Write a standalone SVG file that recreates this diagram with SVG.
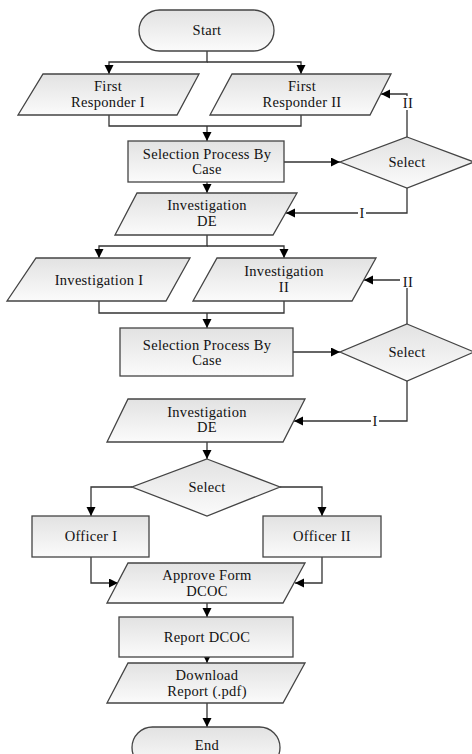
<svg xmlns="http://www.w3.org/2000/svg" width="472" height="754" viewBox="0 0 472 754" font-family="'Liberation Serif', 'DejaVu Serif', serif">
  <defs>
    <linearGradient id="fillGrad" x1="0" y1="0" x2="0" y2="1">
      <stop offset="0" stop-color="#e2e2e2"/>
      <stop offset="1" stop-color="#fbfbfb"/>
    </linearGradient>
    <marker id="arrow" markerUnits="userSpaceOnUse" markerWidth="10" markerHeight="10" refX="9" refY="4.5" orient="auto">
      <path d="M0,0 L9,4.5 L0,9 Z" fill="#000"/>
    </marker>
  </defs>
  <style>
    .shape { fill: url(#fillGrad); stroke: #444; stroke-width: 1.3; }
    .conn { fill: none; stroke: #333; stroke-width: 1.3; }
    .arr { marker-end: url(#arrow); }
    text { font-family: 'Liberation Serif', 'DejaVu Serif', serif; font-size: 14.5px; fill: #111; text-anchor: middle; letter-spacing: 0.3px; }
    .lblbg { fill: #fff; }
  </style>
  <rect width="472" height="754" fill="#fff"/>

  <!-- connectors -->
  <g id="connectors">
    <path class="conn arr" d="M207,51 V62 H109 V74"/>
    <path class="conn arr" d="M207,62 H301 V74"/>
    <path class="conn" d="M109,115 V126 H301 V115"/>
    <path class="conn arr" d="M207,126 V141"/>
    <path class="conn arr" d="M284,162 H340"/>
    <path class="conn arr" d="M407,137 V94 H381"/>
    <path class="conn arr" d="M407,188 V213 H286"/>
    <path class="conn arr" d="M207,182 V193"/>
    <path class="conn arr" d="M207,235 V246 H99 V258"/>
    <path class="conn arr" d="M207,246 H284 V258"/>
    <path class="conn" d="M99,301 V313 H284 V301"/>
    <path class="conn arr" d="M207,313 V328"/>
    <path class="conn arr" d="M293,352 H340"/>
    <path class="conn arr" d="M407,324 V280 H364"/>
    <path class="conn arr" d="M407,381 V421 H294"/>
    <path class="conn arr" d="M207,442 V459"/>
    <path class="conn arr" d="M132,487 H91 V516"/>
    <path class="conn arr" d="M280,487 H322 V516"/>
    <path class="conn arr" d="M91,557 V583 H118"/>
    <path class="conn arr" d="M322,557 V583 H295"/>
    <path class="conn arr" d="M207,603 V617"/>
    <path class="conn arr" d="M207,657 V663"/>
    <path class="conn arr" d="M207,703 V727"/>
    <!-- branch labels -->
    <rect class="lblbg" x="400" y="96" width="16" height="14"/>
    <text x="408" y="108">II</text>
    <rect class="lblbg" x="358" y="206" width="8" height="14"/>
    <text x="362" y="218">I</text>
    <rect class="lblbg" x="400" y="276" width="16" height="12"/>
    <text x="408" y="287">II</text>
    <rect class="lblbg" x="371" y="414" width="8" height="14"/>
    <text x="375" y="426">I</text>
  </g>

  <g id="start">
    <rect class="shape" x="139" y="10" width="135" height="41" rx="20.5" ry="20.5"/>
    <text x="207" y="35">Start</text>
  </g>

  <g id="first-responder-1">
    <polygon class="shape" points="43,74 199,74 177,115 18,115"/>
    <text x="108" y="91">First</text>
    <text x="108" y="107">Responder I</text>
  </g>

  <g id="first-responder-2">
    <polygon class="shape" points="232,74 391,74 370,115 210,115"/>
    <text x="302" y="91">First</text>
    <text x="302" y="107">Responder II</text>
  </g>

  <g id="selection-1">
    <rect class="shape" x="128" y="141" width="156" height="41"/>
    <text x="207" y="159">Selection Process By</text>
    <text x="207" y="174">Case</text>
  </g>

  <g id="select-1">
    <polygon class="shape" points="407,137 474,162 407,188 340,162"/>
    <text x="407" y="167">Select</text>
  </g>

  <g id="investigation-de-1">
    <polygon class="shape" points="137,193 297,193 273,235 115,235"/>
    <text x="207" y="210">Investigation</text>
    <text x="207" y="226">DE</text>
  </g>

  <g id="investigation-1">
    <polygon class="shape" points="36,258 190,258 166,301 7,301"/>
    <text x="99" y="285">Investigation I</text>
  </g>

  <g id="investigation-2">
    <polygon class="shape" points="217,258 376,258 352,301 193,301"/>
    <text x="284" y="276">Investigation</text>
    <text x="284" y="292">II</text>
  </g>

  <g id="selection-2">
    <rect class="shape" x="120" y="328" width="173" height="48"/>
    <text x="207" y="350">Selection Process By</text>
    <text x="207" y="365">Case</text>
  </g>

  <g id="select-2">
    <polygon class="shape" points="407,324 474,352 407,381 340,352"/>
    <text x="407" y="357">Select</text>
  </g>

  <g id="investigation-de-2">
    <polygon class="shape" points="128,399 305,399 283,442 107,442"/>
    <text x="207" y="417">Investigation</text>
    <text x="207" y="432">DE</text>
  </g>

  <g id="select-3">
    <polygon class="shape" points="207,459 280,487 207,516 132,487"/>
    <text x="207" y="492">Select</text>
  </g>

  <g id="officer-1">
    <rect class="shape" x="32" y="516" width="117" height="41"/>
    <text x="91" y="541">Officer I</text>
  </g>

  <g id="officer-2">
    <rect class="shape" x="263" y="516" width="118" height="41"/>
    <text x="322" y="541">Officer II</text>
  </g>

  <g id="approve-form">
    <polygon class="shape" points="128,563 305,563 283,603 107,603"/>
    <text x="207" y="580">Approve Form</text>
    <text x="207" y="596">DCOC</text>
  </g>

  <g id="report-dcoc">
    <rect class="shape" x="119" y="617" width="174" height="40"/>
    <text x="207" y="642">Report DCOC</text>
  </g>

  <g id="download-report">
    <polygon class="shape" points="128,663 305,663 283,703 107,703"/>
    <text x="207" y="680">Download</text>
    <text x="207" y="696">Report (.pdf)</text>
  </g>

  <g id="end">
    <rect class="shape" x="132" y="727" width="148" height="41" rx="20.5" ry="20.5"/>
    <text x="207" y="750">End</text>
  </g>
</svg>
